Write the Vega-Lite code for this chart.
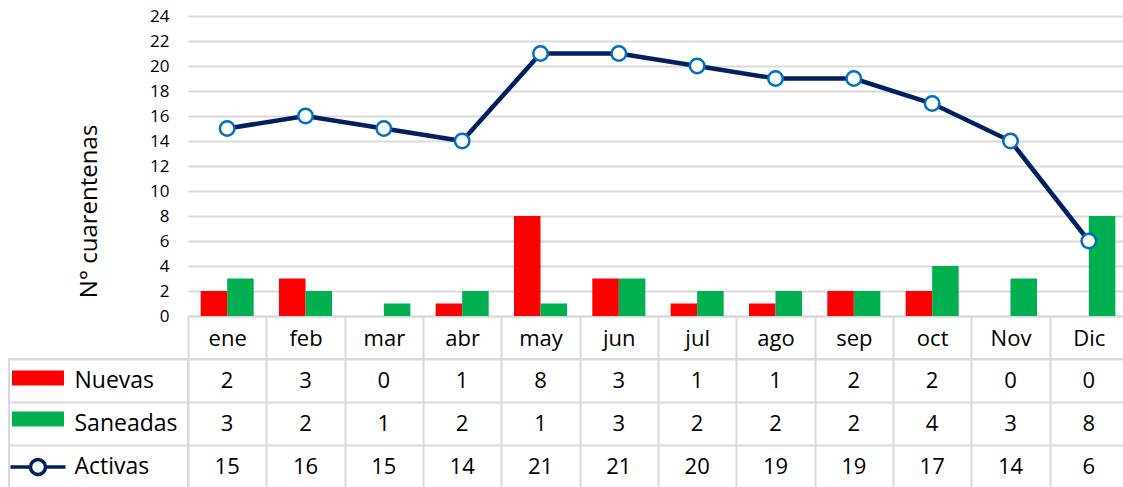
{
  "$schema": "https://vega.github.io/schema/vega-lite/v6.json",
  "padding": {"left": 8, "top": 7, "right": 0, "bottom": 0},
  "background": "white",
  "config": {"font": "Open Sans", "view": {"stroke": null}, "axis": {"labelFont": "Open Sans", "titleFont": "Open Sans"}},
  "datasets": {
    "d": [
      {"mes": "ene", "serie": "Nuevas", "valor": 2}, {"mes": "feb", "serie": "Nuevas", "valor": 3},
      {"mes": "mar", "serie": "Nuevas", "valor": 0}, {"mes": "abr", "serie": "Nuevas", "valor": 1},
      {"mes": "may", "serie": "Nuevas", "valor": 8}, {"mes": "jun", "serie": "Nuevas", "valor": 3},
      {"mes": "jul", "serie": "Nuevas", "valor": 1}, {"mes": "ago", "serie": "Nuevas", "valor": 1},
      {"mes": "sep", "serie": "Nuevas", "valor": 2}, {"mes": "oct", "serie": "Nuevas", "valor": 2},
      {"mes": "Nov", "serie": "Nuevas", "valor": 0}, {"mes": "Dic", "serie": "Nuevas", "valor": 0},
      {"mes": "ene", "serie": "Saneadas", "valor": 3}, {"mes": "feb", "serie": "Saneadas", "valor": 2},
      {"mes": "mar", "serie": "Saneadas", "valor": 1}, {"mes": "abr", "serie": "Saneadas", "valor": 2},
      {"mes": "may", "serie": "Saneadas", "valor": 1}, {"mes": "jun", "serie": "Saneadas", "valor": 3},
      {"mes": "jul", "serie": "Saneadas", "valor": 2}, {"mes": "ago", "serie": "Saneadas", "valor": 2},
      {"mes": "sep", "serie": "Saneadas", "valor": 2}, {"mes": "oct", "serie": "Saneadas", "valor": 4},
      {"mes": "Nov", "serie": "Saneadas", "valor": 3}, {"mes": "Dic", "serie": "Saneadas", "valor": 8},
      {"mes": "ene", "serie": "Activas", "valor": 15}, {"mes": "feb", "serie": "Activas", "valor": 16},
      {"mes": "mar", "serie": "Activas", "valor": 15}, {"mes": "abr", "serie": "Activas", "valor": 14},
      {"mes": "may", "serie": "Activas", "valor": 21}, {"mes": "jun", "serie": "Activas", "valor": 21},
      {"mes": "jul", "serie": "Activas", "valor": 20}, {"mes": "ago", "serie": "Activas", "valor": 19},
      {"mes": "sep", "serie": "Activas", "valor": 19}, {"mes": "oct", "serie": "Activas", "valor": 17},
      {"mes": "Nov", "serie": "Activas", "valor": 14}, {"mes": "Dic", "serie": "Activas", "valor": 6}
    ]
  },
  "columns": 2,
  "bounds": "flush",
  "spacing": {"row": 43, "column": 0},
  "concat": [
    {
      "width": 179, "height": 300,
      "data": {"values": [{"a": 1}]},
      "mark": {"type": "text"},
      "encoding": {"text": {"value": ""}}
    },
    {
      "width": 940, "height": 300,
      "data": {"name": "d"},
      "encoding": {
        "x": {
          "field": "mes", "type": "nominal",
          "sort": ["ene", "feb", "mar", "abr", "may", "jun", "jul", "ago", "sep", "oct", "Nov", "Dic"],
          "scale": {"type": "band", "paddingInner": 0, "paddingOuter": 0},
          "axis": {
            "title": null, "labelAngle": 0, "labelFontSize": 22, "labelColor": "black",
            "tickBand": "extent", "tickSize": 43, "tickColor": "#D9D9D9", "tickWidth": 2,
            "domainColor": "#D9D9D9", "domainWidth": 2, "labelPadding": -31, "grid": false
          }
        },
        "y": {
          "field": "valor", "type": "quantitative",
          "scale": {"domain": [0, 24], "nice": false},
          "axis": {
            "values": [0, 2, 4, 6, 8, 10, 12, 14, 16, 18, 20, 22, 24],
            "title": "N° cuarentenas", "titleFontSize": 24, "titleFontWeight": "normal",
            "titleColor": "black", "titlePadding": 48, "titleY": 195,
            "labelFontSize": 17, "labelColor": "black", "labelPadding": 19,
            "ticks": false, "domain": false, "gridColor": "#D9D9D9", "gridWidth": 2
          }
        }
      },
      "layer": [
        {
          "transform": [{"filter": "datum.serie !== 'Activas'"}],
          "mark": {"type": "bar"},
          "encoding": {
            "xOffset": {"field": "serie", "type": "nominal", "sort": ["Nuevas", "Saneadas"], "scale": {"paddingInner": 0, "paddingOuter": 0.477}},
            "color": {
              "field": "serie", "type": "nominal",
              "scale": {"domain": ["Nuevas", "Saneadas", "Activas"], "range": ["#FF0000", "#00B050", "#002060"]},
              "legend": {
                "title": null, "orient": "none", "legendX": 24, "legendY": 357,
                "direction": "vertical", "symbolSize": 400, "rowPadding": 25, "padding": 0,
                "labelExpr": "''", "labelOffset": 0,
                "encode": {
                  "symbols": {
                    "update": {
                      "shape": {"signal": "datum.value === 'Activas' ? 'M-2.75,0H-0.75M0.75,0H2.75M0.75,0A0.75,0.75,0,1,1,-0.75,0A0.75,0.75,0,1,1,0.75,0' : 'M-2.6,-0.75H2.6V0.75H-2.6Z'"},
                      "fill": {"signal": "datum.value === 'Activas' ? '#ffffff' : (datum.value === 'Nuevas' ? '#FF0000' : '#00B050')"},
                      "fillOpacity": {"signal": "datum.value === 'Activas' ? 0 : 1"},
                      "stroke": {"signal": "datum.value === 'Activas' ? '#002060' : 'transparent'"},
                      "strokeWidth": {"signal": "datum.value === 'Activas' ? 3.5 : 0"},
                      "opacity": {"value": 1}
                    }
                  }
                }
              }
            }
          }
        },
        {
          "transform": [{"filter": "datum.serie === 'Activas'"}],
          "mark": {"type": "line", "strokeWidth": 4.5},
          "encoding": {"color": {"field": "serie", "type": "nominal"}}
        },
        {
          "transform": [{"filter": "datum.serie === 'Activas'"}],
          "mark": {"type": "point", "filled": true, "fill": "white", "stroke": "#0070C0", "strokeWidth": 2.5, "size": 210, "opacity": 1}
        }
      ]
    },
    {
      "width": 179, "height": 129,
      "view": {"stroke": "#D9D9D9", "strokeWidth": 2},
      "data": {"name": "d"},
      "transform": [{"filter": "datum.mes === 'ene'"}],
      "mark": {"type": "text"},
      "encoding": {
        "y": {
          "field": "serie", "type": "nominal", "sort": ["Nuevas", "Saneadas", "Activas"],
          "scale": {"type": "band", "paddingInner": 0, "paddingOuter": 0},
          "axis": {
            "title": null, "ticks": false, "domain": false, "labelAlign": "left", "labelPadding": 0,
            "offset": -65, "labelFontSize": 23, "labelColor": "black",
            "grid": true, "tickBand": "extent", "gridColor": "#D9D9D9", "gridWidth": 2
          }
        },
        "text": {"value": ""}
      }
    },
    {
      "width": 940, "height": 129,
      "view": {"stroke": "#D9D9D9", "strokeWidth": 2},
      "data": {"name": "d"},
      "mark": {"type": "text", "fontSize": 22, "color": "black"},
      "encoding": {
        "x": {
          "field": "mes", "type": "nominal",
          "sort": ["ene", "feb", "mar", "abr", "may", "jun", "jul", "ago", "sep", "oct", "Nov", "Dic"],
          "scale": {"type": "band", "paddingInner": 0, "paddingOuter": 0},
          "axis": {"orient": "top", "title": null, "labels": false, "ticks": false, "domain": false, "grid": true, "tickBand": "extent", "gridColor": "#D9D9D9", "gridWidth": 2}
        },
        "y": {
          "field": "serie", "type": "nominal", "sort": ["Nuevas", "Saneadas", "Activas"],
          "scale": {"type": "band", "paddingInner": 0, "paddingOuter": 0},
          "axis": {"title": null, "labels": false, "ticks": false, "domain": false, "grid": true, "tickBand": "extent", "gridColor": "#D9D9D9", "gridWidth": 2}
        },
        "text": {"field": "valor", "type": "quantitative"}
      }
    }
  ]
}
